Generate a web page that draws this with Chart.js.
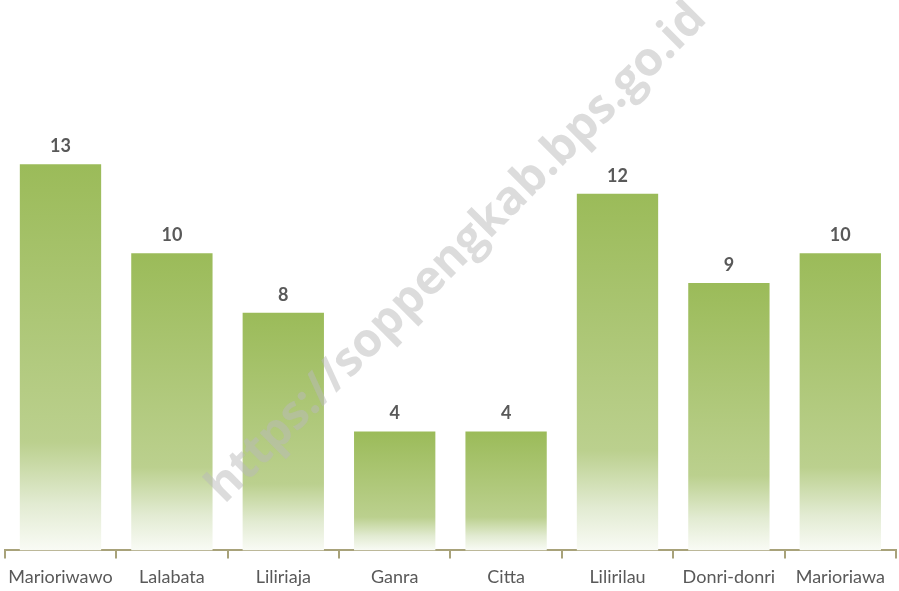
<!DOCTYPE html>
<html>
<head>
<meta charset="utf-8">
<script src="https://cdn.jsdelivr.net/npm/chart.js@4"></script>
<style>
  html, body { margin: 0; padding: 0; background: #fff; }
  #wrap { width: 899px; height: 591px; }
</style>
</head>
<body>
<div id="wrap"><canvas id="kecChart"></canvas></div>
<script>
const kecamatan = ['Marioriwawo', 'Lalabata', 'Liliriaja', 'Ganra', 'Citta', 'Lilirilau', 'Donri-donri', 'Marioriawa'];
const jumlah = [13, 10, 8, 4, 4, 12, 9, 10];

const axisColor = '#A8A27A';
const textColor = '#595959';

// per-bar vertical gradient, green at top fading to white at the base
function barGradient(context) {
    const chart = context.chart;
    if (!chart.chartArea || context.type !== 'data') return '#9BBB59';
    const y = chart.scales.y;
    const top = y.getPixelForValue(context.raw);
    const base = y.getPixelForValue(0);
    const g = chart.ctx.createLinearGradient(0, top, 0, base);
    g.addColorStop(0, '#9BBB59');
    g.addColorStop(0.72, '#BBD08E');
    g.addColorStop(0.88, '#E2EBD2');
    g.addColorStop(1, '#F9FBF5');
    return g;
}

const valueLabels = {
    id: 'valueLabels',
    afterDatasetsDraw(chart) {
        const ctx = chart.ctx;
        const meta = chart.getDatasetMeta(0);
        ctx.save();
        ctx.font = 'bold 18px Lato, "Open Sans", sans-serif';
        ctx.fillStyle = textColor;
        ctx.textAlign = 'center';
        ctx.textBaseline = 'bottom';
        meta.data.forEach((bar, i) => {
            ctx.fillText(jumlah[i], bar.x, bar.y - 9);
        });
        ctx.restore();
    }
};

const watermark = {
    id: 'watermark',
    afterDraw(chart) {
        const ctx = chart.ctx;
        ctx.save();
        ctx.translate(457, 253);
        ctx.rotate(-Math.PI / 4);
        ctx.font = 'bold 47px "Open Sans", sans-serif';
        ctx.fillStyle = 'rgba(185, 185, 185, 0.5)';
        ctx.textAlign = 'center';
        ctx.textBaseline = 'middle';
        ctx.fillText('https://soppengkab.bps.go.id', 0, 0);
        ctx.restore();
    }
};

new Chart(document.getElementById('kecChart'), {
    type: 'bar',
    data: {
        labels: kecamatan,
        datasets: [{
            data: jumlah,
            backgroundColor: barGradient,
            borderWidth: 0,
            barPercentage: 0.73,
            categoryPercentage: 1
        }]
    },
    options: {
        responsive: true,
        maintainAspectRatio: false,
        animation: false,
        layout: { padding: { top: 75, left: 4, right: 3, bottom: -5 } },
        plugins: {
            legend: { display: false },
            tooltip: { enabled: false }
        },
        scales: {
            x: {
                border: { color: axisColor, width: 2 },
                grid: {
                    display: true,
                    offset: true,
                    drawOnChartArea: false,
                    drawTicks: true,
                    tickLength: 8,
                    color: axisColor,
                    lineWidth: 2
                },
                ticks: {
                    color: textColor,
                    font: { family: 'Lato, "Open Sans", sans-serif', size: 18 },
                    padding: 8,
                    maxRotation: 0,
                    autoSkip: false
                }
            },
            y: {
                display: false,
                min: 0,
                max: 16
            }
        }
    },
    plugins: [valueLabels, watermark]
});
</script>
</body>
</html>
